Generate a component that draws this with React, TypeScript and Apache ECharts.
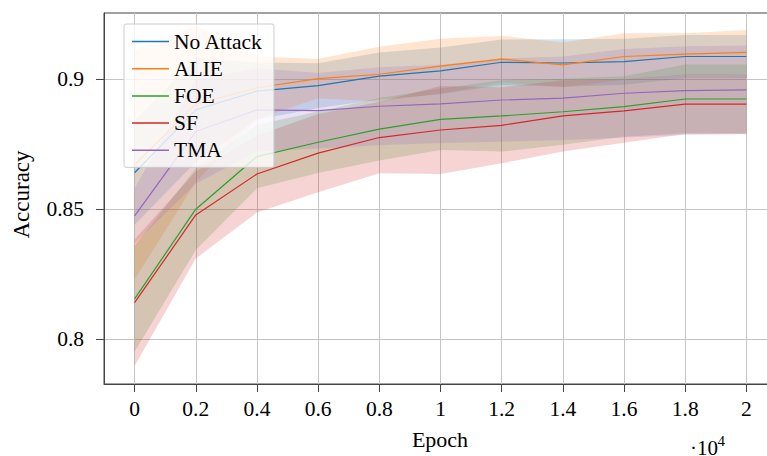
import React, { useEffect, useRef } from "react";
import * as echarts from "echarts";

const epochs = [0, 2000, 4000, 6000, 8000, 10000, 12000, 14000, 16000, 18000, 20000];
const xTickLabels = ["0", "0.2", "0.4", "0.6", "0.8", "1", "1.2", "1.4", "1.6", "1.8", "2"];
const yTicks = [0.8, 0.85, 0.9];
const yTickLabels = ["0.8", "0.85", "0.9"];

const seriesNames = ["No Attack", "ALIE", "FOE", "SF", "TMA"];
const seriesColors = ["#1f77b4", "#ff7f0e", "#2ca02c", "#d62728", "#9467bd"];
const bandFills = [
  "rgba(31,119,180,0.2)",
  "rgba(255,127,14,0.2)",
  "rgba(44,160,44,0.2)",
  "rgba(214,39,40,0.2)",
  "rgba(148,103,189,0.2)",
];

const noAttackMean = [0.864, 0.8881, 0.8953, 0.8974, 0.9011, 0.9031, 0.9064, 0.9061, 0.9066, 0.9086, 0.9086];
const noAttackStd = [0.02, 0.02, 0.011, 0.0086, 0.009, 0.009, 0.0087, 0.0091, 0.0088, 0.0083, 0.0083];
const alieMean = [0.867, 0.8904, 0.8966, 0.9001, 0.9018, 0.9049, 0.9076, 0.9054, 0.9086, 0.9095, 0.9102];
const alieStd = [0.044, 0.03, 0.012, 0.0075, 0.0105, 0.0105, 0.0089, 0.0086, 0.0089, 0.008, 0.0086];
const foeMean = [0.8156, 0.85, 0.8702, 0.8757, 0.8807, 0.8845, 0.8858, 0.8874, 0.8894, 0.8923, 0.8923];
const foeStd = [0.0203, 0.0157, 0.0122, 0.0118, 0.012, 0.0118, 0.0137, 0.0127, 0.0116, 0.0132, 0.0132];
const sfMean = [0.8141, 0.8478, 0.8635, 0.8715, 0.8775, 0.8804, 0.8822, 0.8858, 0.8877, 0.8903, 0.8903];
const sfStd = [0.0243, 0.0167, 0.0148, 0.015, 0.0137, 0.0169, 0.0146, 0.0137, 0.0122, 0.0114, 0.0114];
const tmaMean = [0.8474, 0.8798, 0.8881, 0.8878, 0.8895, 0.8904, 0.8919, 0.8926, 0.8945, 0.8955, 0.8958];
const tmaStd = [0.0105, 0.02, 0.016, 0.0145, 0.015, 0.015, 0.016, 0.016, 0.017, 0.017, 0.017];

const means = [noAttackMean, alieMean, foeMean, sfMean, tmaMean];
const stds = [noAttackStd, alieStd, foeStd, sfStd, tmaStd];

const FONT = "Liberation Serif";

export default function App() {
  const ref = useRef<HTMLDivElement>(null);
  useEffect(() => {
    if (!ref.current) return;
    const chart = echarts.init(ref.current, null, { renderer: "svg" });

    const bandSeries = seriesNames.map((name, i) => ({
      name: name + " band",
      type: "custom",
      silent: true,
      z: 1,
      encode: { x: 0, y: [1, 2] },
      data: epochs.map((e, j) => [e, means[i][j] - stds[i][j], means[i][j] + stds[i][j]]),
      renderItem: (params: any, api: any) => {
        if (params.dataIndex !== 0) return null;
        const upper = epochs.map((e, j) => api.coord([e, means[i][j] + stds[i][j]]));
        const lower = epochs.map((e, j) => api.coord([e, means[i][j] - stds[i][j]])).reverse();
        return {
          type: "polygon",
          shape: { points: upper.concat(lower) },
          style: { fill: bandFills[i], stroke: "none" },
        };
      },
    }));

    const lineSeries = seriesNames.map((name, i) => ({
      name,
      type: "line",
      symbol: "none",
      showSymbol: false,
      lineStyle: { color: seriesColors[i], width: 1.2 },
      itemStyle: { color: seriesColors[i] },
      data: epochs.map((e, j) => [e, means[i][j]]),
      z: 3,
    }));

    chart.setOption({
      animation: false,
      grid: {
        left: 104,
        top: 13,
        width: 673,
        height: 371,
        show: true,
        borderColor: "#444",
        borderWidth: 1,
        backgroundColor: "transparent",
      },
      legend: {
        data: seriesNames,
        orient: "vertical",
        left: 124,
        top: 24,
        icon: "rect",
        itemWidth: 37,
        itemHeight: 1.5,
        itemGap: 5.2,
        padding: [6.5, 11, 6, 8],
        backgroundColor: "rgba(255,255,255,0.8)",
        borderColor: "#cccccc",
        borderWidth: 1,
        borderRadius: 2,
        z: 10,
        textStyle: { fontFamily: FONT, fontSize: 21.5, color: "#000", lineHeight: 22 },
      },
      xAxis: {
        type: "value",
        min: -1000,
        max: 21000,
        axisLine: { show: true, onZero: false, lineStyle: { color: "#444", width: 1 } },
        axisTick: { show: true, customValues: epochs, length: 8, lineStyle: { color: "#444" } },
        axisLabel: {
          customValues: epochs,
          formatter: (v: number) => xTickLabels[epochs.indexOf(v)] ?? "",
          fontFamily: FONT,
          fontSize: 21.5,
          color: "#000",
          margin: 14,
        },
        splitLine: { show: true, lineStyle: { color: "#c4c4c4", width: 1 } },
      },
      yAxis: {
        type: "value",
        min: 0.7829,
        max: 0.9253,
        axisLine: { show: true, onZero: false, lineStyle: { color: "#444", width: 1 } },
        axisTick: { show: true, customValues: yTicks, length: 8, lineStyle: { color: "#444" } },
        axisLabel: {
          customValues: yTicks,
          formatter: (v: number) => yTickLabels[yTicks.indexOf(v)] ?? "",
          fontFamily: FONT,
          fontSize: 21.5,
          color: "#000",
          margin: 20,
        },
        splitLine: { show: true, lineStyle: { color: "#c4c4c4", width: 1 } },
      },
      graphic: [
        {
          type: "text",
          x: 440,
          y: 439,
          style: { text: "Epoch", fontFamily: FONT, fontSize: 22, fill: "#000", align: "center", verticalAlign: "middle" },
        },
        {
          type: "text",
          x: 21.5,
          y: 194.5,
          rotation: Math.PI / 2,
          style: { text: "Accuracy", fontFamily: FONT, fontSize: 23, fill: "#000", align: "center", verticalAlign: "middle" },
        },
        {
          type: "text",
          x: 690,
          y: 447.5,
          style: { text: "·10", fontFamily: FONT, fontSize: 21, fill: "#000", align: "left", verticalAlign: "middle" },
        },
        {
          type: "text",
          x: 717.5,
          y: 441,
          style: { text: "4", fontFamily: FONT, fontSize: 15, fill: "#000", align: "left", verticalAlign: "middle" },
        },
      ],
      series: [...bandSeries, ...lineSeries],
    });
    return () => chart.dispose();
  }, []);
  return (
    <div
      ref={ref}
      style={{ position: "fixed", left: 0, top: 0, width: 790, height: 456, background: "#fff" }}
    />
  );
}
